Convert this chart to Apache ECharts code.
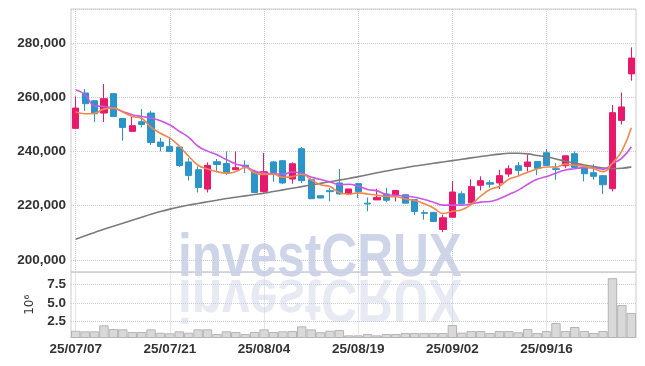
<!DOCTYPE html>
<html><head><meta charset="utf-8">
<script src="https://cdn.jsdelivr.net/npm/echarts@6/dist/echarts.min.js"></script>
<style>html,body{margin:0;padding:0;background:#fff}#c{width:645px;height:366px}</style>
</head><body><div id="c"></div>
<script>
const dates = [
'25/07/07','25/07/08','25/07/09','25/07/10','25/07/11','25/07/14','25/07/15','25/07/16','25/07/17','25/07/18',
'25/07/21','25/07/22','25/07/23','25/07/24','25/07/25','25/07/28','25/07/29','25/07/30','25/07/31','25/08/01',
'25/08/04','25/08/05','25/08/06','25/08/07','25/08/08','25/08/11','25/08/12','25/08/13','25/08/14','25/08/18',
'25/08/19','25/08/20','25/08/21','25/08/22','25/08/25','25/08/26','25/08/27','25/08/28','25/08/29','25/09/01',
'25/09/02','25/09/03','25/09/04','25/09/05','25/09/08','25/09/09','25/09/10','25/09/11','25/09/12','25/09/15',
'25/09/16','25/09/17','25/09/18','25/09/19','25/09/22','25/09/23','25/09/24','25/09/25','25/09/26','25/09/29'];
const dateLabels = ['25/07/07','25/07/21','25/08/04','25/08/19','25/09/02','25/09/16'];

const opens = [248500,261550,258700,254150,261300,252150,247400,250950,254150,243450,
241850,241600,236100,233250,226100,236200,235550,233250,234900,232600,
225230,236100,236550,229800,241000,229550,223650,225500,228350,224300,
228100,220900,222100,224300,224000,224000,222200,217400,217500,211200,
215700,224350,221050,227500,228450,228350,231650,234700,234450,236300,
239500,233600,234700,239150,234150,232150,231050,226250,251450,268600];
const closes = [256000,257600,253900,259450,252900,248850,249500,249950,243300,241850,
240000,234800,231150,226700,234850,235200,232000,234000,234350,224850,
232500,232250,228350,235450,229200,222550,222800,225150,224300,226150,
225150,220600,223050,221950,225600,220900,217850,217150,214150,215500,
225000,220650,227000,229200,227900,231050,233600,233000,236100,233750,
234850,233350,238400,234100,231750,230800,227700,254300,256400,274450];
const lows = [248500,255000,250850,250850,252900,243950,247400,248850,242350,240000,
240000,234300,229300,224850,224850,232250,231400,233250,232000,224850,
224850,228800,227900,228100,228350,222350,222800,221550,224000,223850,
222800,217900,222100,221200,221550,220900,216550,214800,214150,210200,
215650,220500,221000,225600,226600,226100,230650,231150,232600,231250,
234850,229550,233850,234000,228950,229550,224300,225250,249950,266100];
const highs = [260300,263000,258900,264900,261550,252150,252900,255650,255000,244950,
245150,241600,237550,234450,235950,237200,240000,240000,236700,233250,
239400,236500,236800,235950,241600,230300,223650,226500,233500,226150,
228300,223000,226250,226600,225600,224200,222200,218300,217700,216650,
229050,225250,229700,230800,229350,233250,234850,236100,238700,236300,
240900,235650,238400,240000,234150,235250,231250,257100,261750,278400];
const volumes = [1200000,1120000,1120000,1940000,1430000,1390000,1020000,1020000,1390000,930000,
850000,1120000,930000,1390000,1390000,750000,1120000,1020000,750000,1020000,
1390000,1020000,1120000,1160000,1800000,1390000,1000000,1200000,1300000,570000,
570000,750000,570000,750000,750000,890000,890000,890000,890000,890000,
1980000,930000,1160000,1160000,890000,1160000,1160000,980000,1430000,890000,
1160000,2250000,1160000,1710000,1160000,890000,1160000,8360000,4710000,3620000];
const ma5 = [254500,253900,254100,255600,255970,254540,252920,252130,248900,246690,
244920,241980,238220,234900,233500,232540,231980,232550,234080,232080,
231540,231590,230460,230680,231550,229560,227670,227030,224800,224190,
224710,224270,223850,223380,223270,222420,221870,220690,219130,217110,
217930,218490,220460,223470,225950,227160,229750,230950,232330,233500,
234260,234210,235290,234890,234490,233680,232550,235730,240190,248730];
const ma10 = [262750,260900,256850,256600,256000,254750,253550,252900,252300,251330,
249730,247450,245180,241900,240100,238730,236980,235390,234490,232790,
232040,231790,231510,232380,231820,230550,229630,228750,227740,227870,
227140,225970,225440,224090,223730,223570,223070,222270,221260,220190,
220180,220180,220580,221300,221530,222550,224120,225710,227900,229730,
230710,231980,233120,233610,234000,233970,233380,235510,237540,241610];
const ma60 = [207600,208900,210100,211300,212400,213500,214600,215700,216800,217800,
218700,219500,220200,220800,221400,222000,222600,223100,223600,224100,
224600,225200,225800,226400,227000,227600,228200,228800,229400,230000,
230700,231400,232100,232800,233400,234000,234600,235100,235600,236100,
236600,237100,237600,238100,238600,239000,239300,239300,239100,238500,
238000,237200,236400,235700,235000,234400,233900,233700,233800,234300];

const FONT = '"Liberation Sans", Arial, sans-serif';
const UP = '#e8196b', DOWN = '#2b94c8', GRIDC = '#c9cbdc';
const lab = {fontFamily: FONT, fontSize: 13.5, fontWeight: 'bold', color: '#333'};
const vLines = {
  silent: true, symbol: ['none','none'], label: {show: false}, animation: false,
  lineStyle: {type: 'dotted', color: GRIDC, width: 1},
  emphasis: {disabled: true},
  data: dateLabels.map(d => ({xAxis: d}))
};
const wmFont = 'bold 62px "Liberation Sans"';

const chart = echarts.init(document.getElementById('c'), null, {renderer: 'canvas'});
chart.setOption({
  animation: false,
  backgroundColor: '#fff',
  graphic: [
    {type: 'text', x: 178, y: 228, scaleX: 0.8, z: 0, silent: true,
     style: {text: 'investCRUX', font: wmFont, fill: '#cfd5e9', verticalAlign: 'top'}},
    {type: 'text', x: 178, y: 328, scaleX: 0.8, scaleY: -1, z: 0, silent: true,
     style: {text: 'investCRUX', font: wmFont, fill: '#e7eaf3', verticalAlign: 'top'}}
  ],
  grid: [
    {left: 71, right: 9, top: 9, height: 263, show: true, borderColor: '#ccc', borderWidth: 1, backgroundColor: 'transparent'},
    {left: 71, right: 9, top: 272, height: 65.5, show: true, borderColor: '#ccc', borderWidth: 1, backgroundColor: 'transparent'}
  ],
  xAxis: [
    {type: 'category', data: dates, gridIndex: 0, boundaryGap: true,
     axisLine: {show: false}, axisTick: {show: false}, axisLabel: {show: false}, splitLine: {show: false}},
    {type: 'category', data: dates, gridIndex: 1, boundaryGap: true,
     axisLine: {show: true, lineStyle: {color: '#ccc'}}, axisTick: {show: false},
     axisLabel: Object.assign({interval: (i, v) => dateLabels.includes(v), margin: 5}, lab),
     splitLine: {show: false}}
  ],
  yAxis: [
    {type: 'value', gridIndex: 0, min: 195500, max: 292550, minInterval: 20000, maxInterval: 20000, splitNumber: 5,
     axisLine: {show: false}, axisTick: {show: false},
     axisLabel: Object.assign({formatter: v => v.toLocaleString('en-US'), showMinLabel: false, showMaxLabel: false, margin: 5}, lab),
     splitLine: {show: true, lineStyle: {type: 'dotted', color: GRIDC}}},
    {type: 'value', gridIndex: 1, min: 280000, max: 9200000, minInterval: 2500000, maxInterval: 2500000, splitNumber: 3,
     axisLine: {show: false}, axisTick: {show: false},
     name: '10\u2076', nameLocation: 'middle', nameRotate: 90, nameGap: 31,
     nameTextStyle: {fontFamily: 'DejaVu Sans', fontSize: 12, color: '#333'},
     axisLabel: Object.assign({formatter: v => (v / 1e6).toFixed(1), showMinLabel: false, showMaxLabel: false, margin: 5}, lab),
     splitLine: {show: true, lineStyle: {type: 'dotted', color: GRIDC}}}
  ],
  series: [
    {type: 'candlestick', xAxisIndex: 0, yAxisIndex: 0, z: 2, barWidth: '70%',
     data: dates.map((d, i) => [opens[i], closes[i], lows[i], highs[i]]),
     itemStyle: {color: UP, color0: DOWN, borderColor: UP, borderColor0: DOWN, borderWidth: 1},
     markLine: Object.assign({z: 1}, vLines)},
    {type: 'line', name: 'MA60', data: ma60, xAxisIndex: 0, yAxisIndex: 0, z: 3, symbol: 'none', smooth: true,
     lineStyle: {color: '#7b7b7b', width: 1.6}},
    {type: 'line', name: 'MA10', data: ma10, xAxisIndex: 0, yAxisIndex: 0, z: 3, symbol: 'none', smooth: true,
     lineStyle: {color: '#cc55e8', width: 1.6}},
    {type: 'line', name: 'MA5', data: ma5, xAxisIndex: 0, yAxisIndex: 0, z: 3, symbol: 'none', smooth: true,
     lineStyle: {color: '#f0884c', width: 1.6}},
    {type: 'bar', name: 'Volume', data: volumes, xAxisIndex: 1, yAxisIndex: 1, barCategoryGap: '0%', z: 2,
     itemStyle: {color: '#d9d9d9', borderColor: '#b5b5b5', borderWidth: 1},
     markLine: Object.assign({z: 1}, vLines)}
  ]
});
</script></body></html>
